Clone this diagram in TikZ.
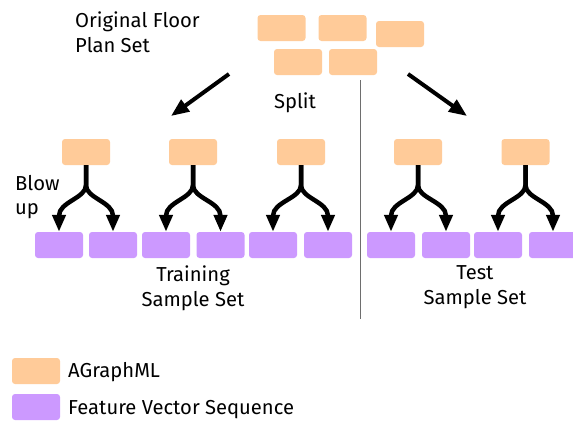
\documentclass[tikz,border=0pt]{standalone}
\usepackage{fontspec}
\setmainfont{Fira Sans}
\usetikzlibrary{arrows.meta,calc}
\definecolor{agorange}{RGB}{255,203,153}
\definecolor{fvpurple}{RGB}{204,153,255}
\definecolor{divgray}{RGB}{110,110,110}
\begin{document}
\begin{tikzpicture}[x=1pt,y=-1pt,
  every node/.style={font=\fontsize{20.2pt}{25pt}\selectfont, text=black},
  box/.style={rounded corners=3pt, minimum width=48pt, minimum height=26pt, inner sep=0pt, draw=none},
  agbox/.style={box, fill=agorange},
  fvbox/.style={box, fill=fvpurple},
  lbl/.style={inner sep=0pt, align=left},
  bigarrow/.style={line width=4pt, -{Triangle[length=18pt,width=14pt]}},
  blowarrow/.style={line width=4.5pt, -{Triangle[length=17pt,width=13pt]}},
  divider/.style={draw=divgray, line width=0.8pt}]
\useasboundingbox (0,0) rectangle (573,421);
% top set
\node[agbox] (t1) at (281.5,28) {};
\node[agbox] (t2) at (342.5,28) {};
\node[agbox] (t3) at (400,34) {};
\node[agbox] (t4) at (298,62) {};
\node[agbox] (t5) at (353,62) {};
\node[lbl, anchor=north west] (title) at (75,12) {Original Floor\\Plan Set};
\node[lbl, anchor=base] (split) at (295,108) {Split};
% split arrows
\coordinate (la0) at (229,74);
\coordinate (la1) at (171,116);
\coordinate (ra0) at (408,74);
\coordinate (ra1) at (467,116);
\draw[bigarrow] (la0) -- (la1);
\draw[bigarrow] (ra0) -- (ra1);
% divider
\coordinate (d0) at (360,80);
\coordinate (d1) at (360,319);
\draw[divider] (d0) -- (d1);
% orange row
\foreach \i/\x in {1/86,2/193,3/301,4/418,5/525.5}{
  \node[agbox] (o\i) at (\x,152) {};
}
% purple row
\foreach \i/\x in {1/59,2/113,3/166,4/220.5,5/273,6/328,7/391,8/446,9/498,10/553}{
  \node[fvbox] (p\i) at (\x,245) {};
}
% blow-up arrows
\foreach \o/\a/\b in {1/1/2,2/3/4,3/5/6,4/7/8,5/9/10}{
  \draw[blowarrow] (o\o.south) -- ++(0,20) .. controls +(0,13) and +(0,-14) .. ($(p\a.north)+(0,-16)$) -- (p\a.north);
  \draw[blowarrow] (o\o.south) -- ++(0,20) .. controls +(0,13) and +(0,-14) .. ($(p\b.north)+(0,-16)$) -- (p\b.north);
}
\node[lbl, anchor=north west, font=\fontsize{20.2pt}{23.5pt}\selectfont] (blow) at (15,175.5) {Blow\\up};
\node[align=center, inner sep=0pt, anchor=north] (train) at (193,265.5) {Training\\Sample Set};
\node[align=center, inner sep=0pt, anchor=north] (test) at (475,265.5) {Test\\Sample Set};
% legend
\node[agbox] (lo) at (36,371) {};
\node[fvbox] (lp) at (36,407) {};
\node[lbl, anchor=base west] (lot) at (68,377) {AGraphML};
\node[lbl, anchor=base west] (lpt) at (68,414) {Feature Vector Sequence};
\end{tikzpicture}
\end{document}
